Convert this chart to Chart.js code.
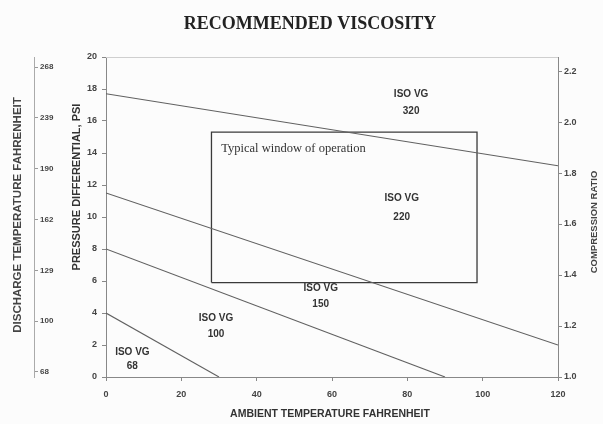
<!DOCTYPE html>
<html><head><meta charset="utf-8">
<script src="https://cdn.jsdelivr.net/npm/chart.js@4"></script>
<style>html,body{margin:0;padding:0;background:#fcfcfc}#wrap{width:603px;height:424px;position:relative}</style>
</head><body><div id="wrap"><canvas id="c" width="603" height="424"></canvas></div>
<script>
// ---- data ----
const boundaryNames = ['68/100', '100/150', '150/220', '220/320'];
const boundaryStartTemp = [0, 0, 0, 0];
const boundaryStartPsi = [4, 8, 11.5, 17.7];
const boundaryEndTemp = [30, 90, 120, 120];
const boundaryEndPsi = [0, 0, 2.0, 13.2];
const windowTemp = [28, 98.5];
const windowPsi = [5.9, 15.3];
const windowLabel = 'Typical window of operation';
const windowLabelTemp = 30.6;
const windowLabelPsi = 14.25;
const gradeNames = ['68', '100', '150', '220', '320'];
const gradeTemp = [7, 29.2, 57, 78.5, 81];
const gradeTitlePsi = [1.55, 3.7, 5.55, 11.2, 17.7];
const gradeNumPsi = [0.65, 2.65, 4.55, 10.0, 16.6];
const dischargeTempLabels = ['68', '100', '129', '162', '190', '239', '268'];
const compressionTicks = [1.0, 1.2, 1.4, 1.6, 1.8, 2.0, 2.2];
const chartTitle = 'RECOMMENDED VISCOSITY';
const xTitle = 'AMBIENT TEMPERATURE FAHRENHEIT';
const yTitle = 'PRESSURE DIFFERENTIAL, PSI';
const dischargeTitle = 'DISCHARGE TEMPERATURE FAHRENHEIT';
const ratioTitle = 'COMPRESSION RATIO';

Chart.defaults.font.family = '"Liberation Sans", Arial, sans-serif';
Chart.defaults.color = '#3a3a3a';

const datasets = boundaryNames.map((n, i) => ({
  label: n,
  data: [{x: boundaryStartTemp[i], y: boundaryStartPsi[i]}, {x: boundaryEndTemp[i], y: boundaryEndPsi[i]}],
  showLine: true, borderColor: '#606060', borderWidth: 1.1, pointRadius: 0, xAxisID: 'x', yAxisID: 'yP'
}));
datasets.push({
  label: 'window',
  data: [
    {x: windowTemp[0], y: windowPsi[0]}, {x: windowTemp[0], y: windowPsi[1]},
    {x: windowTemp[1], y: windowPsi[1]}, {x: windowTemp[1], y: windowPsi[0]},
    {x: windowTemp[0], y: windowPsi[0]}
  ],
  showLine: true, borderColor: '#3a3a3a', borderWidth: 1.3, pointRadius: 0, xAxisID: 'x', yAxisID: 'yP'
});

function rotText(ctx, text, x, y, ang) {
  ctx.save(); ctx.translate(x, y); ctx.rotate(ang); ctx.fillText(text, 0, 0); ctx.restore();
}

const textPlugin = {
  id: 'texts',
  afterDatasetsDraw(chart) {
    const {ctx, scales, chartArea} = chart;
    const xs = scales.x, ys = scales.yP;
    ctx.save();
    // top border
    ctx.strokeStyle = '#cfcfcf'; ctx.lineWidth = 1;
    ctx.beginPath(); ctx.moveTo(chartArea.left, chartArea.top + 0.5); ctx.lineTo(chartArea.right, chartArea.top + 0.5); ctx.stroke();
    ctx.fillStyle = '#333';
    ctx.textAlign = 'center'; ctx.textBaseline = 'middle';
    ctx.font = 'bold 10px "Liberation Sans", Arial, sans-serif';
    gradeNames.forEach((g, i) => {
      const px = xs.getPixelForValue(gradeTemp[i]);
      ctx.fillText('ISO VG', px, ys.getPixelForValue(gradeTitlePsi[i]));
      ctx.fillText(g, px, ys.getPixelForValue(gradeNumPsi[i]));
    });
    ctx.textAlign = 'left';
    ctx.font = '12.5px "Liberation Serif", "Times New Roman", serif';
    ctx.fillText(windowLabel, xs.getPixelForValue(windowLabelTemp), ys.getPixelForValue(windowLabelPsi));
    ctx.textAlign = 'center';
    // chart title
    ctx.fillStyle = '#222';
    ctx.font = 'bold 18px "Liberation Serif", "Times New Roman", serif';
    ctx.fillText(chartTitle, 310, 24);
    // axis titles
    ctx.fillStyle = '#333';
    ctx.font = 'bold 10.5px "Liberation Sans", Arial, sans-serif';
    ctx.fillText(xTitle, 330, 414);
    ctx.font = 'bold 11px "Liberation Sans", Arial, sans-serif';
    rotText(ctx, yTitle, 77, 187, -Math.PI / 2);
    ctx.font = 'bold 11.5px "Liberation Sans", Arial, sans-serif';
    ctx.fillStyle = '#444';
    rotText(ctx, dischargeTitle, 18, 215, -Math.PI / 2);
    ctx.font = 'bold 9.5px "Liberation Sans", Arial, sans-serif';
    rotText(ctx, ratioTitle, 594, 222, -Math.PI / 2);
    ctx.restore();
  }
};

new Chart(document.getElementById('c'), {
  type: 'scatter',
  data: {datasets},
  plugins: [textPlugin],
  options: {
    responsive: false, animation: false, devicePixelRatio: 1,
    layout: {padding: {top: 57, left: 0, right: 0, bottom: 0}},
    plugins: {legend: {display: false}, tooltip: {enabled: false}, title: {display: false}},
    scales: {
      x: {
        type: 'linear', position: 'bottom', min: 0, max: 120,
        ticks: {stepSize: 20, font: {size: 9, weight: 'bold'}, padding: 8, color: '#444'},
        grid: {drawOnChartArea: false, tickLength: 4, color: '#888'},
        border: {color: '#888'},
        afterFit(s) { s.height = 47; }
      },
      yDis: {
        type: 'linear', position: 'left', weight: 10, min: -0.1, max: 6.2,
        afterBuildTicks(s) { s.ticks = dischargeTempLabels.map((_, i) => ({value: i})); },
        ticks: {mirror: true, padding: 6, font: {size: 8, weight: 'bold'}, color: '#444',
          callback: (v) => dischargeTempLabels[Math.round(v)] ?? ''},
        grid: {drawOnChartArea: false, tickLength: -4, color: '#999'},
        border: {color: '#aaa'},
        afterFit(s) { s.width = 34; }
      },
      yP: {
        type: 'linear', position: 'left', weight: 0, min: 0, max: 20,
        ticks: {stepSize: 2, font: {size: 9, weight: 'bold'}, padding: 5, color: '#444'},
        grid: {drawOnChartArea: false, tickLength: 4, color: '#888'},
        border: {color: '#888'},
        afterFit(s) { s.width = 72; }
      },
      yR: {
        type: 'linear', position: 'right', min: 1.0, max: 2.255,
        afterBuildTicks(s) { s.ticks = compressionTicks.map(v => ({value: v})); },
        ticks: {font: {size: 9, weight: 'bold'}, padding: 2, color: '#444', callback: (v) => Number(v).toFixed(1)},
        grid: {drawOnChartArea: false, tickLength: 4, color: '#888'},
        border: {color: '#888'},
        afterFit(s) { s.width = 45; }
      }
    }
  }
});
</script></body></html>
